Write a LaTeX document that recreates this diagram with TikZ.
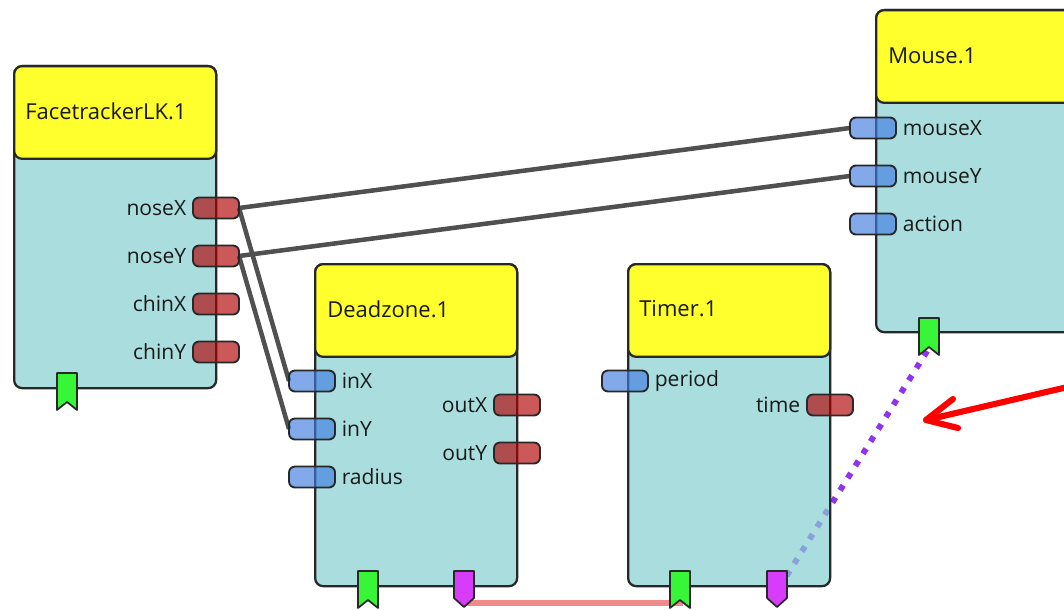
\documentclass[tikz,border=0pt]{standalone}
\usepackage{fontspec}
\setmainfont{Open Sans}
\definecolor{edge}{RGB}{40,40,40}
\definecolor{bodyfill}{RGB}{134,208,208}
\definecolor{headfill}{RGB}{255,255,45}
\definecolor{outport}{RGB}{175,0,0}
\definecolor{inport}{RGB}{63,125,225}
\definecolor{trigger}{RGB}{55,245,55}
\definecolor{event}{RGB}{215,60,250}
\definecolor{wire}{RGB}{80,80,80}
\definecolor{eventwire}{RGB}{240,125,125}
\definecolor{dotwire}{RGB}{145,50,240}
\definecolor{pointer}{RGB}{255,0,0}
\definecolor{txt}{RGB}{25,25,25}

% one unit = one pixel of a 1064 x 610 canvas
\tikzset{
  body/.style={draw=edge, line width=1.7pt, fill=bodyfill, fill opacity=0.7,
    rounded corners=6pt, minimum width=151.5pt, minimum height=241.5pt,
    inner sep=0pt, anchor=north west},
  head/.style={draw=edge, line width=1.7pt, fill=headfill, rounded corners=6pt,
    minimum width=151.5pt, minimum height=69.5pt, inner sep=0pt, anchor=north west},
  title/.style={anchor=west, inner sep=0pt, text=txt, font=\fontsize{16.5}{19}\selectfont},
  port/.style={draw=edge, line width=1.4pt, rounded corners=4.5pt,
    minimum width=34.5pt, minimum height=15.75pt, inner sep=0pt, fill opacity=0.65},
  inp/.style={port, fill=inport},
  outp/.style={port, fill=outport},
  plabel/.style={inner sep=0pt, text=txt, font=\fontsize{15.8}{19}\selectfont},
  inlabel/.style={plabel, anchor=west, xshift=4.2pt},
  outlabel/.style={plabel, anchor=east, xshift=-4.2pt},
  trigtab/.style={draw=edge, line width=1.3pt, fill=trigger, line join=round},
  evtab/.style={draw=edge, line width=1.3pt, fill=event, line join=round},
  datawire/.style={draw=wire, line width=3.4pt},
  eventlink/.style={draw=eventwire, line width=3.8pt, opacity=0.9},
  dotlink/.style={draw=dotwire, line width=4.4pt, dash pattern=on 4.4pt off 6.4pt},
  pointerline/.style={draw=pointer, line width=4.6pt, line cap=round, line join=round}
}

% trigger tab: name, left x, top y
\newcommand\trigtabat[3]{%
  \draw[trigtab] (#2,#3) -- ++(20,0) -- ++(0,37) -- ++(-10,-8) -- ++(-10,8) -- cycle;
  \coordinate (#1) at (#2+13,#3+32);
  \coordinate (#1-c) at (#2+10,#3+27);}
% event tab: name, left x, top y
\newcommand\evtabat[3]{%
  \draw[evtab] (#2,#3) -- ++(20,0) -- ++(0,27) -- ++(-10,9) -- ++(-10,-9) -- cycle;
  \coordinate (#1) at (#2+12,#3+32);
  \coordinate (#1-c) at (#2+10,#3+19);}

\begin{document}
\begin{tikzpicture}[x=0.75pt,y=-0.75pt]
\useasboundingbox (0,0) rectangle (1064,610);
\clip (0,0) rectangle (1064,610);

% ---- port centres (the port nodes are drawn on top later) ----
\path
  (216,208) coordinate (ft-nx-p) (216,256) coordinate (ft-ny-p)
  (312,381) coordinate (dz-ix-p) (312,429) coordinate (dz-iy-p)
  (873,128) coordinate (mo-mx-p) (873,176) coordinate (mo-my-p);

% ---- tab anchors for the event links ----
\coordinate (dz-ev) at (466,603);
\coordinate (tm-tr) at (683,603);
\coordinate (tm-ev-c) at (779,588);
\coordinate (mo-tr-c) at (929,348);

% ---- links ----
\draw[eventlink] (dz-ev) -- (tm-tr);
\draw[dotlink] (tm-ev-c) -- (mo-tr-c);
\draw[datawire] ([xshift=17.25pt]ft-nx-p) -- ([xshift=-17.25pt]mo-mx-p);
\draw[datawire] ([xshift=17.25pt]ft-ny-p) -- ([xshift=-17.25pt]mo-my-p);
\draw[datawire] ([xshift=17.25pt]ft-nx-p) -- ([xshift=-17.25pt]dz-ix-p);
\draw[datawire] ([xshift=17.25pt]ft-ny-p) -- ([xshift=-17.25pt]dz-iy-p);

% ---- block bodies and headers ----
\node[body] (ft) at (13,65) {};
\node[head] (ft-h) at (13,65) {};
\node[title] (ft-t) at (25,111.5) {FacetrackerLK.1};

\node[body] (dz) at (314,263) {};
\node[head] (dz-h) at (314,263) {};
\node[title] (dz-t) at (327,309) {Deadzone.1};

\node[body] (tm) at (627,263) {};
\node[head] (tm-h) at (627,263) {};
\node[title] (tm-t) at (639,309) {Timer.1};

\node[body] (mo) at (875,9) {};
\node[head] (mo-h) at (875,9) {};
\node[title] (mo-t) at (888,55.5) {Mouse.1};

% ---- tabs ----
\trigtabat{ft-tr}{57}{373}
\trigtabat{dz-tr}{358}{571}
\evtabat{dz-evt}{454}{571}
\trigtabat{tm-trt}{670}{571}
\evtabat{tm-ev}{767}{571}
\trigtabat{mo-tr}{919}{318}

% ---- ports and their labels ----
\node[outp] (ft-nx) at (ft-nx-p) {};
\node[outp] (ft-ny) at (ft-ny-p) {};
\node[outp] (ft-cx) at (216,304) {};
\node[outp] (ft-cy) at (216,352) {};
\node[outlabel] (ft-nx-l) at (ft-nx.west) {noseX};
\node[outlabel] (ft-ny-l) at (ft-ny.west) {noseY};
\node[outlabel] (ft-cx-l) at (ft-cx.west) {chinX};
\node[outlabel] (ft-cy-l) at (ft-cy.west) {chinY};

\node[inp] (dz-ix) at (dz-ix-p) {};
\node[inp] (dz-iy) at (dz-iy-p) {};
\node[inp] (dz-r) at (312,477) {};
\node[outp] (dz-ox) at (517,405) {};
\node[outp] (dz-oy) at (517,453) {};
\node[inlabel] (dz-ix-l) at (dz-ix.east) {inX};
\node[inlabel] (dz-iy-l) at (dz-iy.east) {inY};
\node[inlabel] (dz-r-l) at (dz-r.east) {radius};
\node[outlabel] (dz-ox-l) at (dz-ox.west) {outX};
\node[outlabel] (dz-oy-l) at (dz-oy.west) {outY};

\node[inp] (tm-p) at (625,381) {};
\node[outp] (tm-t2) at (830,405) {};
\node[inlabel] (tm-p-l) at (tm-p.east) {period};
\node[outlabel] (tm-t2-l) at (tm-t2.west) {time};

\node[inp] (mo-mx) at (mo-mx-p) {};
\node[inp] (mo-my) at (mo-my-p) {};
\node[inp] (mo-a) at (873,224) {};
\node[inlabel] (mo-mx-l) at (mo-mx.east) {mouseX};
\node[inlabel] (mo-my-l) at (mo-my.east) {mouseY};
\node[inlabel] (mo-a-l) at (mo-a.east) {action};

% ---- pointer arrow ----
\coordinate (ptr-tail) at (1072,386);
\coordinate (ptr-tip) at (926,420);
\coordinate (ptr-up) at (953,399);
\coordinate (ptr-dn) at (958,428);
\draw[pointerline] (ptr-tail) -- (ptr-tip);
\draw[pointerline] (ptr-up) -- (ptr-tip) -- (ptr-dn);
\end{tikzpicture}
\end{document}
